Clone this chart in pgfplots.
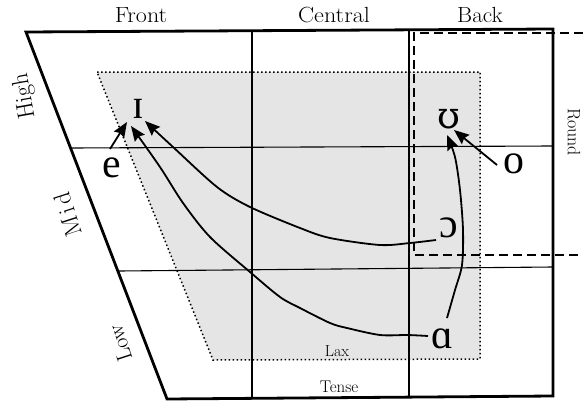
\documentclass[border=0pt]{standalone}
\usepackage{fontspec}
\usepackage{pgfplots}
\pgfplotsset{compat=1.18}
\usetikzlibrary{arrows.meta}
\newfontfamily\ipa{Liberation Serif}
\newfontfamily\ipab{DejaVu Serif}
\begin{document}
\begin{tikzpicture}
\begin{axis}[width=583bp,height=402bp,scale only axis,
  xmin=0,xmax=583,ymin=0,ymax=402,y dir=reverse,hide axis,clip=false]
% lax region shading
\addplot[fill=gray!20,draw=none] coordinates {(97,72) (480,72) (480,359) (213,360)} -- cycle;
\addplot[draw=black,line width=1.5bp,dash pattern=on 1.5bp off 2.5bp] coordinates {(97,72) (480,72) (480,359) (213,360)} -- cycle;
% grid lines
\addplot[black,line width=1.1bp] coordinates {(71,148) (553,146)};
\addplot[black,line width=1.1bp] coordinates {(119,271) (553,267)};
\addplot[black,line width=1.1bp] coordinates {(252,31) (252,398)};
\addplot[black,line width=1.1bp] coordinates {(409,30) (409,397)};
% round region
\addplot[black,line width=1.2bp,dash pattern=on 9bp off 5bp] coordinates {(583,33) (414,33) (414,255) (583,255)};
% outer frame
\addplot[black,line width=2.8bp,line join=miter] coordinates {(26,32) (553,29) (553,396) (167,399)} -- cycle;
% arrows
\addplot[black,line width=1.8bp,-{Stealth[length=15bp,width=12bp,inset=2bp]}] coordinates {(110,149) (127,122)};
\addplot[black,line width=1.8bp,smooth,-{Stealth[length=15bp,width=12bp,inset=2bp]}] coordinates {(436,240) (410,243) (380,245) (330,238) (300,228) (250,207) (217,187) (173,147) (145,121)};
\addplot[black,line width=1.8bp,smooth,-{Stealth[length=15bp,width=12bp,inset=2bp]}] coordinates {(428,336) (407,335) (380,335) (347,328) (330,323) (300,308) (280,297) (250,272) (210,237) (183,203) (160,167) (131,126)};
\addplot[black,line width=1.8bp,smooth,-{Stealth[length=15bp,width=12bp,inset=2bp]}] coordinates {(447,318) (455,290) (462,265) (463,230) (460,190) (455,157) (447,135)};
\addplot[black,line width=1.8bp,-{Stealth[length=15bp,width=12bp,inset=2bp]}] coordinates {(497,165) (454,130)};
% vowels
\node[anchor=base,inner sep=0pt,font=\ipa\fontsize{42}{42}\selectfont] at (axis cs:138,118) {ɪ};
\node[anchor=base,inner sep=0pt,font=\ipa\fontsize{42}{42}\selectfont] at (axis cs:112,177) {e};
\node[anchor=base,inner sep=0pt,font=\ipab\fontsize{37}{37}\selectfont] at (axis cs:449,128) {ʊ};
\node[anchor=base,inner sep=0pt,font=\ipa\fontsize{42}{42}\selectfont] at (axis cs:514,173) {o};
\node[anchor=base,inner sep=0pt,font=\ipa\fontsize{42}{42}\selectfont] at (axis cs:449,237) {ɔ};
\node[anchor=base,inner sep=0pt,font=\ipa\fontsize{42}{42}\selectfont] at (axis cs:442,348) {ɑ};
% labels
\node[anchor=base,inner sep=0pt,xscale=1.1,font=\fontsize{22}{22}\selectfont] at (axis cs:141,23) {Front};
\node[anchor=base,inner sep=0pt,xscale=1.1,font=\fontsize{22}{22}\selectfont] at (axis cs:334,23) {Central};
\node[anchor=base,inner sep=0pt,xscale=1.05,font=\fontsize{22}{22}\selectfont] at (axis cs:480,23) {Back};
\node[anchor=base,inner sep=0pt,font=\fontsize{16}{16}\selectfont] at (axis cs:337,356) {Lax};
\node[anchor=base,inner sep=0pt,font=\fontsize{17}{17}\selectfont] at (axis cs:339,392) {Tense};
\node[inner sep=0pt,rotate=-90,font=\fontsize{18}{18}\selectfont] at (axis cs:574,132) {Round};
\node[inner sep=0pt,rotate=100,font=\fontsize{24}{24}\selectfont] at (axis cs:25,96) {High};
\node[inner sep=0pt,rotate=108,font=\fontsize{24}{24}\selectfont] at (axis cs:68,215) {M\hspace{3bp}i\hspace{3bp}d};
\node[inner sep=0pt,rotate=108,font=\fontsize{22}{22}\selectfont] at (axis cs:120,343) {Low};
\end{axis}
\pgfresetboundingbox
\useasboundingbox (0,0) rectangle (583bp,402bp);
\end{tikzpicture}
\end{document}
